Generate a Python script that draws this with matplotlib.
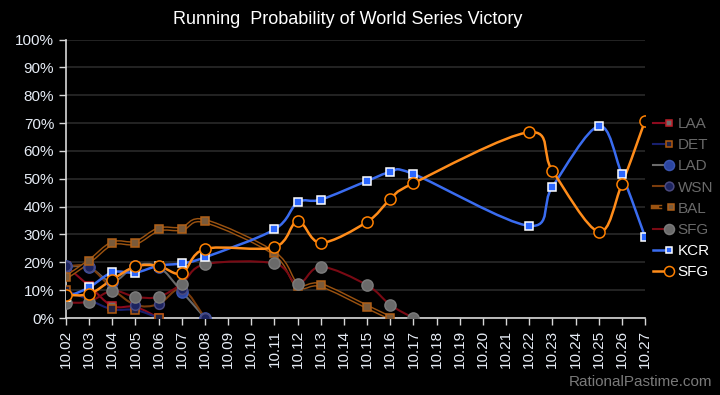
import matplotlib
matplotlib.use("Agg")
import matplotlib.pyplot as plt
from matplotlib.path import Path
from matplotlib.patches import PathPatch
from matplotlib.lines import Line2D
from matplotlib.legend_handler import HandlerTuple
import numpy as np

plt.rcParams['font.family'] = ['Liberation Sans', 'DejaVu Sans']

dates = ["10.02", "10.03", "10.04", "10.05", "10.06", "10.07", "10.08", "10.09",
         "10.10", "10.11", "10.12", "10.13", "10.14", "10.15", "10.16", "10.17",
         "10.18", "10.19", "10.20", "10.21", "10.22", "10.23", "10.24", "10.25",
         "10.26", "10.27"]

# win probability in percent, None = no value that day
laa = [18.7, 11.5, 4.3, 4.0, 0]
det = [10.0, 6.5, 3.1, 2.9, 0]
lad = [18.5, 18.2, 13.0, 18.7, 18.4, 9.5, 0]
wsn = [18.6, 18.3, 10.5, 4.7, 5.0, 10.5, 0]
bal = [14.6, 20.3, 26.8, 27.0, 31.8, 32.0, 34.8, None, None, 23.2, 11.6, 11.8,
       None, 4.0, 0]
sfg_old = [5.5, 5.9, 9.8, 7.6, 7.6, 12.3, 19.3, None, None, 19.6, 12.1, 18.4,
           None, 11.8, 4.7, 0]
kcr = [7.4, 11.0, 16.4, 16.3, 18.8, 19.6, 21.8, None, None, 31.8, 41.5, 42.5,
       None, 49.2, 52.3, 51.7, None, None, None, None, 33.1, 47.1, None, 68.9,
       51.7, 29.2]
sfg = [8.3, 8.6, 13.8, 18.5, 18.7, 16.0, 24.8, None, None, 25.4, 34.8, 27.0,
       None, 34.5, 42.6, 48.4, None, None, None, None, 66.7, 52.9, None, 31.0,
       48.1, 70.8]

series = [
    # label, values, line color, lw, marker, face, edge, size, text color, double
    ("LAA", laa, "#8c0a1e", 1.5, "s", "#6e6e6e", "#c0202a", 5.5, "#6a6a6a", False),
    ("DET", det, "#18206e", 1.5, "s", "#202040", "#b05a10", 5.5, "#6a6a6a", False),
    ("LAD", lad, "#6a6a6a", 1.5, "o", "#2b45a0", "#3a55b0", 8, "#6a6a6a", False),
    ("WSN", wsn, "#7a3c0c", 1.5, "o", "#1c2460", "#4a4a80", 7, "#6a6a6a", False),
    ("BAL", bal, "#9a5210", 3.2, "s", "#7a5a3a", "#b06018", 5.5, "#6a6a6a", True),
    ("SFG", sfg_old, "#7a0a14", 1.5, "o", "#6a6a6a", "#7a7a7a", 8, "#6a6a6a", False),
    ("KCR", kcr, "#3a6cf0", 1.8, "s", "#2a66ff", "#ffffff", 5.5, "#ffffff", False),
    ("SFG", sfg, "#ff8c1a", 1.8, "o", "#000000", "#ff8000", 8, "#ffffff", False),
]


def smooth_path(xs, ys):
    pts = np.column_stack([xs, ys]).astype(float)
    n = len(pts)
    verts = [pts[0]]
    codes = [Path.MOVETO]
    for i in range(n - 1):
        p0 = pts[max(i - 1, 0)]
        p1 = pts[i]
        p2 = pts[i + 1]
        p3 = pts[min(i + 2, n - 1)]
        verts += [p1 + (p2 - p0) / 6, p2 - (p3 - p1) / 6, p2]
        codes += [Path.CURVE4] * 3
    return Path(verts, codes)


fig = plt.figure(figsize=(7.2, 3.95), dpi=100, facecolor="black")
ax = fig.add_axes([66 / 720, 77 / 395, 579 / 720, 278.5 / 395])
ax.set_facecolor("black")

handles = []
labels = []
colors = []
for name, vals, lc, lw, mk, mfc, mec, ms, tc, double in series:
    xs = [i for i, v in enumerate(vals) if v is not None]
    ys = [v for v in vals if v is not None]
    path = smooth_path(xs, ys)
    ax.add_patch(PathPatch(path, fill=False, edgecolor=lc, lw=lw, zorder=2))
    if double:
        ax.add_patch(PathPatch(path, fill=False, edgecolor="black", lw=1.1, zorder=2))
    ax.plot(xs, ys, linestyle="none", marker=mk, markerfacecolor=mfc,
            markeredgecolor=mec, markersize=ms, markeredgewidth=1.1, zorder=3)
    line = Line2D([], [], color=lc, lw=lw)
    mark = Line2D([], [], linestyle="none", marker=mk, markerfacecolor=mfc,
                  markeredgecolor=mec, markersize=ms * 0.9, markeredgewidth=1.1)
    if double:
        handles.append((line, Line2D([], [], color="black", lw=1.1), mark))
    else:
        handles.append((line, mark))
    labels.append(name)
    colors.append(tc)

ax.set_xlim(0, len(dates) - 1)
ax.set_ylim(0, 100)
ax.set_xticks(range(len(dates)))
ax.set_xticklabels(dates, rotation=90)
ax.set_yticks(range(0, 101, 10))
ax.set_yticklabels([f"{v}%" for v in range(0, 101, 10)])
ax.yaxis.grid(True, color="#2a2a2a", lw=1.2)
ax.set_axisbelow(True)
for side in ["top", "right"]:
    ax.spines[side].set_visible(False)
for side in ["left", "bottom"]:
    ax.spines[side].set_color("#d8d8d8")
    ax.spines[side].set_linewidth(1.2)
ax.tick_params(colors="#d8d8d8", labelcolor="#e6ecf5", labelsize=11,
               length=5, width=1, direction="out")

fig.text(348 / 720, 1 - 20 / 395, "Running  Probability of World Series Victory",
         color="white", fontsize=13, ha="center", va="center")
fig.text(712 / 720, 1 - 382 / 395, "RationalPastime.com", color="#7a7a7a",
         fontsize=11, ha="right", va="center")

leg = fig.legend(handles, labels, handler_map={tuple: HandlerTuple(ndivide=None)},
                 loc="upper left", bbox_to_anchor=(653 / 720, 1 - 117 / 395),
                 frameon=False, fontsize=11, handlelength=1.4, handletextpad=0.2,
                 labelspacing=0.47, borderaxespad=0, borderpad=0)
for txt, c in zip(leg.get_texts(), colors):
    txt.set_color(c)

fig.savefig("out.png", dpi=100, facecolor="black")
